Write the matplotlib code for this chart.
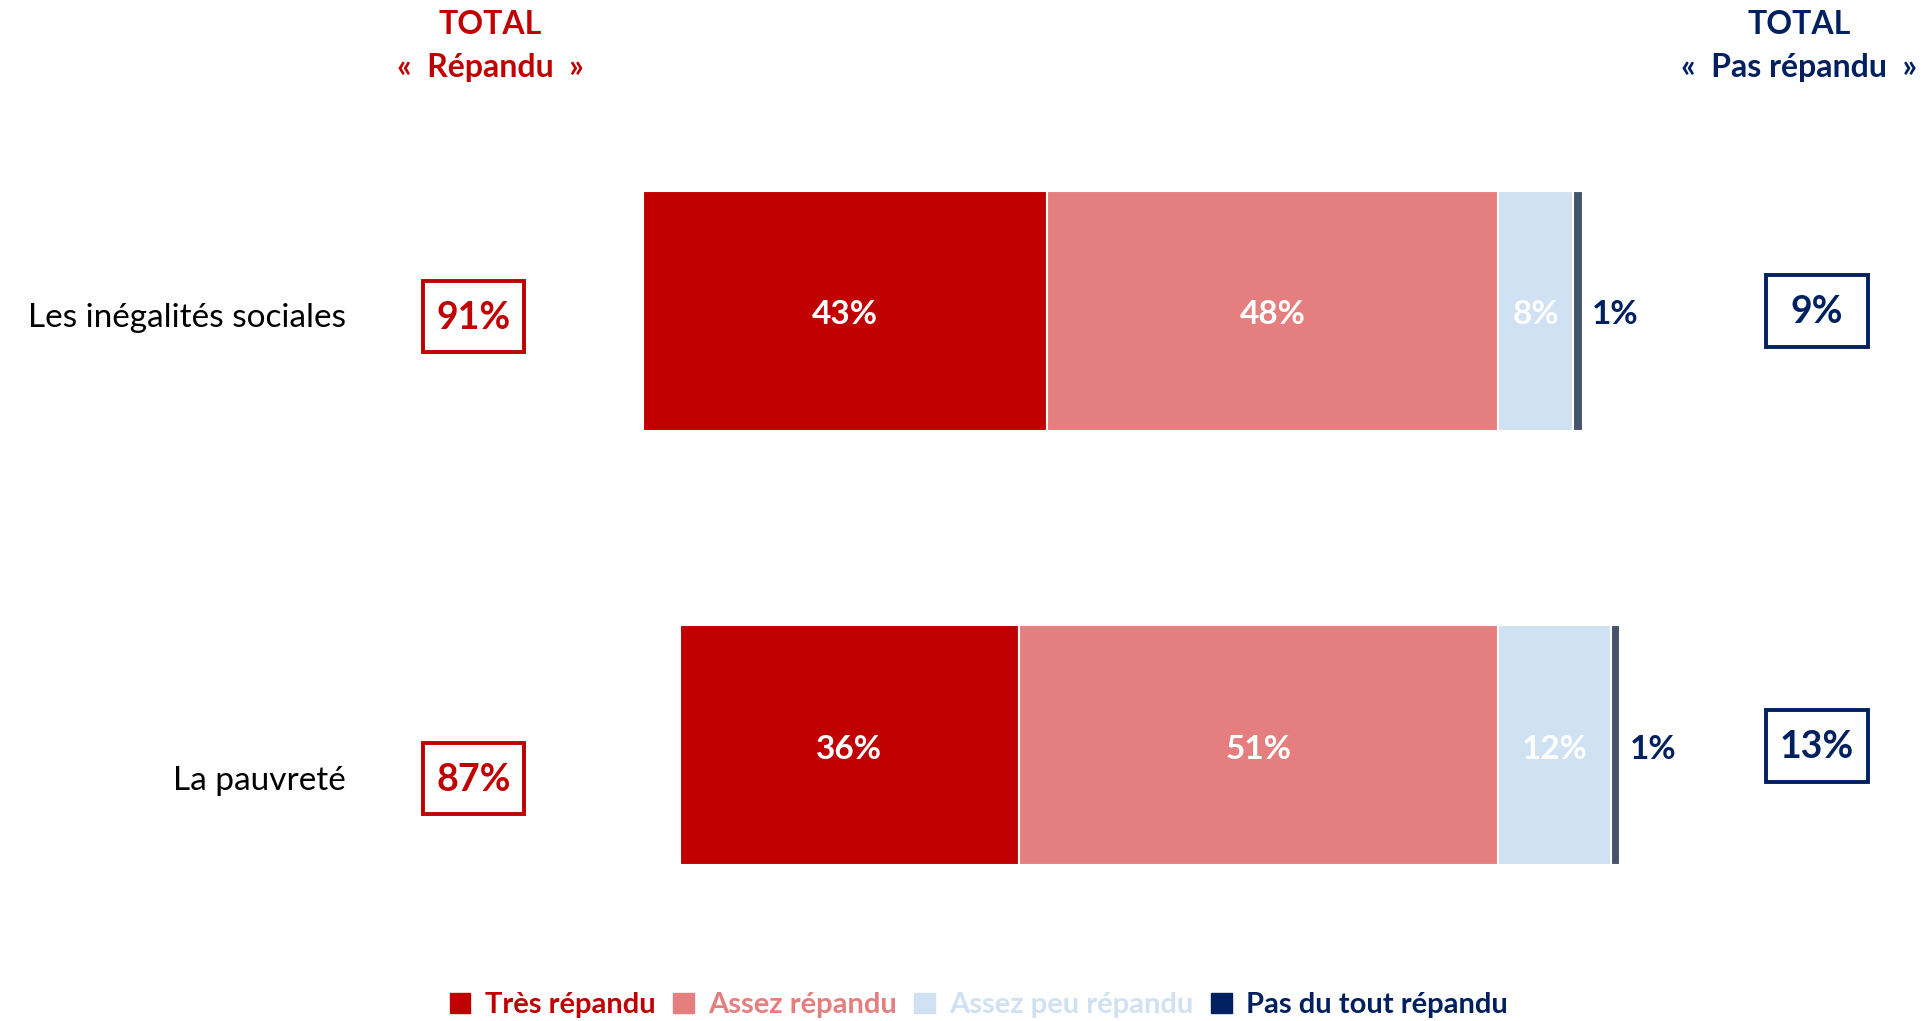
import matplotlib.pyplot as plt
from matplotlib.patches import Patch, Rectangle

plt.rcParams['font.family'] = ['Lato', 'DejaVu Sans']

# --- données ---
categories = ['Les inégalités sociales', 'La pauvreté']
tres_repandu = [43, 36]
assez_repandu = [48, 51]
assez_peu_repandu = [8, 12]
pas_du_tout = [1, 1]
total_repandu = ['91%', '87%']
total_pas_repandu = ['9%', '13%']
series_names = ['Très répandu', 'Assez répandu', 'Assez peu répandu', 'Pas du tout répandu']

# --- couleurs ---
c_tres = '#C00000'
c_assez = '#E57E7E'
c_peu = '#CFE1F2'
c_pas = '#44546A'
c_navy = '#002060'

W, H = 1929, 1021
fig = plt.figure(figsize=(W / 100, H / 100), dpi=100)
ax = fig.add_axes([0, 0, 1, 1])

# échelle : 0 au pixel 1498, 9.4 px par %
x0, ppp = 1498, 9.4
ax.set_xlim(-x0 / ppp, (W - x0) / ppp)
y_c0, y_c1 = 311, 745.5
upp = y_c1 - y_c0
ax.set_ylim(1 + (H - y_c1) / upp, -y_c0 / upp)
ax.axis('off')

ypos = list(range(len(categories)))
bh = 240 / upp
neg_left = [-(a + b) for a, b in zip(tres_repandu, assez_repandu)]
neg_mid = [-b for b in assez_repandu]

ax.barh(ypos, tres_repandu, left=neg_left, height=bh, color=c_tres, edgecolor='white', linewidth=1.5)
ax.barh(ypos, assez_repandu, left=neg_mid, height=bh, color=c_assez, edgecolor='white', linewidth=1.5)
ax.barh(ypos, assez_peu_repandu, left=0, height=bh, color=c_peu, edgecolor='white', linewidth=1.5)
ax.barh(ypos, pas_du_tout, left=assez_peu_repandu, height=bh, color=c_pas, edgecolor='white', linewidth=1.5)

dy = 4 / upp  # léger décalage vertical des étiquettes
for i in ypos:
    ax.text(neg_left[i] + tres_repandu[i] / 2, i + dy, f'{tres_repandu[i]}%', ha='center', va='center',
            color='white', fontsize=24, fontweight='bold')
    ax.text(neg_mid[i] + assez_repandu[i] / 2, i + dy, f'{assez_repandu[i]}%', ha='center', va='center',
            color='white', fontsize=24, fontweight='bold')
    ax.text(assez_peu_repandu[i] / 2, i + dy, f'{assez_peu_repandu[i]}%', ha='center', va='center',
            color='white', fontsize=24, fontweight='bold')
    end = assez_peu_repandu[i] + pas_du_tout[i]
    ax.text(end + 1.0, i + dy, f'{pas_du_tout[i]}%', ha='left', va='center',
            color=c_navy, fontsize=24, fontweight='bold')

# calque en pixels pour libellés, encadrés et titres
ov = fig.add_axes([0, 0, 1, 1], facecolor='none')
ov.set_xlim(0, W)
ov.set_ylim(H, 0)
ov.axis('off')

label_base = [327, 790]
left_box_top = [281, 743]
right_box_top = [275, 710]
for i in ypos:
    ov.text(346, label_base[i], categories[i], ha='right', va='baseline', color='black', fontsize=24)

    ov.add_patch(Rectangle((423, left_box_top[i]), 101, 71, facecolor='white', edgecolor=c_tres, linewidth=2.8))
    ov.text(473.5, left_box_top[i] + 37, total_repandu[i], ha='center', va='center', color=c_tres,
            fontsize=27, fontweight='bold')

    ov.add_patch(Rectangle((1766, right_box_top[i]), 102, 72, facecolor='white', edgecolor=c_navy, linewidth=2.8))
    ov.text(1817, right_box_top[i] + 37, total_pas_repandu[i], ha='center', va='center', color=c_navy,
            fontsize=27, fontweight='bold')

# titres des colonnes
ov.text(490, 24, 'TOTAL', ha='center', va='center', color=c_tres, fontsize=23, fontweight='bold')
ov.text(490, 67, '«  Répandu  »', ha='center', va='center', color=c_tres, fontsize=23, fontweight='bold')
ov.text(1799, 24, 'TOTAL', ha='center', va='center', color=c_navy, fontsize=23, fontweight='bold')
ov.text(1799, 67, '«  Pas répandu  »', ha='center', va='center', color=c_navy, fontsize=23, fontweight='bold')

# légende
cols = [c_tres, c_assez, c_peu, c_navy]
handles = [Patch(facecolor=c, edgecolor=c) for c in cols]
leg = fig.legend(handles, series_names, loc='center', bbox_to_anchor=(979 / W, 1 - 1005 / H), ncol=4,
                 frameon=False, handlelength=0.7, handleheight=0.7, handletextpad=0.5, columnspacing=0.6,
                 prop={'size': 21, 'weight': 'bold'})
for t, c in zip(leg.get_texts(), cols):
    t.set_color(c)

fig.savefig('out.png', dpi=100, facecolor='white')
